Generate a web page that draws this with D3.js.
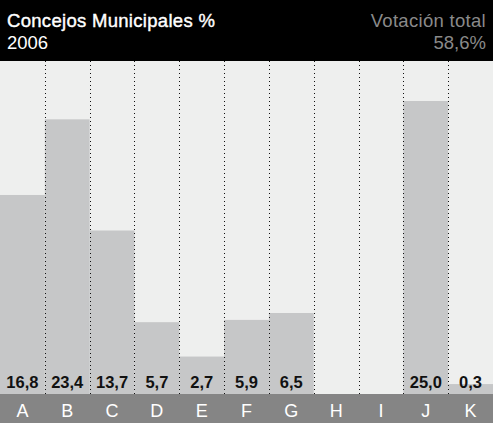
<!DOCTYPE html>
<html>
<head>
<meta charset="utf-8">
<script src="https://cdn.jsdelivr.net/npm/d3@7"></script>
<style>
  body { margin: 0; background: #fff; }
  svg { display: block; font-family: "Liberation Sans", Arial, Helvetica, sans-serif; }
</style>
</head>
<body>
<svg id="container" width="493" height="423"></svg>
<script>
// party labels and vote share
const categories = ["A", "B", "C", "D", "E", "F", "G", "H", "I", "J", "K"];
const values = [16.8, 23.4, 13.7, 5.7, 2.7, 5.9, 6.5, null, null, 25.0, 0.3];
const valueLabels = ["16,8", "23,4", "13,7", "5,7", "2,7", "5,9", "6,5", "", "", "25,0", "0,3"];

const title = "Concejos Municipales %";
const subtitle = "2006";
const totalLabel = "Votación total";
const totalValue = "58,6%";

const svg = d3.select('#container');
const width = +svg.attr('width');
const height = +svg.attr('height');

const headerH = 61;
const plotBottom = 394;

const x = d3.scaleBand()
    .domain(categories)
    .range([0, width])
    .padding(0);

const y = d3.scaleLinear()
    .domain([0, 25])
    .range([387.5, 101]);

// plot background
svg.append('rect')
    .attr('x', 0).attr('y', headerH)
    .attr('width', width).attr('height', plotBottom - headerH)
    .attr('fill', '#eeefee');

// bars
svg.selectAll('rect.bar')
    .data(categories.map((c, i) => ({ c, v: values[i] })).filter(d => d.v != null))
    .enter()
    .append('rect')
        .attr('class', 'bar')
        .attr('x', d => x(d.c))
        .attr('y', d => y(d.v))
        .attr('width', x.bandwidth())
        .attr('height', d => plotBottom - y(d.v))
        .attr('fill', '#c6c7c8');

// dotted separators
svg.selectAll('line.sep')
    .data(categories.slice(1))
    .enter()
    .append('line')
        .attr('class', 'sep')
        .attr('x1', d => Math.round(x(d)) + 0.5)
        .attr('x2', d => Math.round(x(d)) + 0.5)
        .attr('y1', headerH)
        .attr('y2', plotBottom)
        .attr('stroke', '#111')
        .attr('stroke-width', 1)
        .attr('stroke-dasharray', '1,3');

// value labels
svg.selectAll('text.val')
    .data(categories.map((c, i) => ({ c, t: valueLabels[i] })))
    .enter()
    .append('text')
        .attr('class', 'val')
        .attr('x', d => x(d.c) + x.bandwidth() / 2)
        .attr('y', 388)
        .attr('text-anchor', 'middle')
        .attr('font-size', 16.5)
        .attr('font-weight', 'bold')
        .attr('fill', '#111')
        .text(d => d.t);

// bottom category band
svg.append('rect')
    .attr('x', 0).attr('y', plotBottom)
    .attr('width', width).attr('height', height - plotBottom)
    .attr('fill', '#858585');

svg.selectAll('text.cat')
    .data(categories)
    .enter()
    .append('text')
        .attr('class', 'cat')
        .attr('x', d => x(d) + x.bandwidth() / 2)
        .attr('y', 416.5)
        .attr('text-anchor', 'middle')
        .attr('font-size', 18)
        .attr('fill', '#fff')
        .text(d => d);

// header
svg.append('rect')
    .attr('x', 0).attr('y', 0)
    .attr('width', width).attr('height', headerH)
    .attr('fill', '#000');

svg.append('text')
    .attr('x', 7).attr('y', 27)
    .attr('font-size', 18.5)
    .attr('letter-spacing', 0.3)
    .attr('fill', '#fff')
    .attr('stroke', '#fff')
    .attr('stroke-width', 0.4)
    .text(title);

svg.append('text')
    .attr('x', 7).attr('y', 49)
    .attr('font-size', 18.5)
    .attr('fill', '#fff')
    .text(subtitle);

svg.append('text')
    .attr('x', 486).attr('y', 27)
    .attr('text-anchor', 'end')
    .attr('font-size', 18.5)
    .attr('letter-spacing', 0.3)
    .attr('fill', '#8a8a8a')
    .text(totalLabel);

svg.append('text')
    .attr('x', 486).attr('y', 49)
    .attr('text-anchor', 'end')
    .attr('font-size', 18.5)
    .attr('fill', '#8a8a8a')
    .text(totalValue);
</script>
</body>
</html>
